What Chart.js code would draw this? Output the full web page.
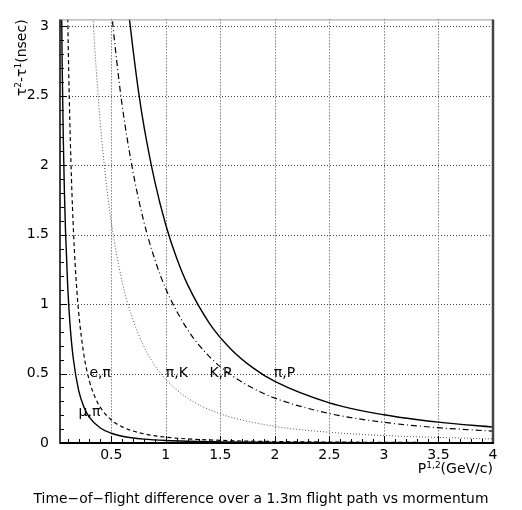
<!DOCTYPE html>
<html>
<head>
<meta charset="utf-8">
<script src="https://cdn.jsdelivr.net/npm/chart.js@4"></script>
<style>
  html, body { margin: 0; padding: 0; background: #fff; }
  #wrap { width: 522px; height: 510px; position: relative; }
</style>
</head>
<body>
<div id="wrap"><canvas id="tof"></canvas></div>
<script>
// momentum (GeV/c) and time difference (ns)
const pMuPi = [0.03, 0.04, 0.05, 0.06, 0.07, 0.08, 0.1, 0.12, 0.15, 0.2, 0.25, 0.3, 0.4, 0.5, 0.6, 0.8, 1, 1.5, 2, 3, 4];
const tMuPi = [4.76, 3.49, 2.72, 2.20, 1.82, 1.54, 1.14, 0.874, 0.619, 0.383, 0.258, 0.185, 0.108, 0.070, 0.049, 0.028, 0.018, 0.008, 0.0045, 0.002, 0.0011];

const pEPi = [0.1, 0.105, 0.11, 0.12, 0.13, 0.14, 0.15, 0.17, 0.2, 0.25, 0.3, 0.35, 0.4, 0.5, 0.6, 0.8, 1, 1.5, 2, 3, 4];
const tEPi = [3.11, 2.88, 2.67, 2.32, 2.03, 1.79, 1.59, 1.27, 0.951, 0.630, 0.446, 0.332, 0.256, 0.166, 0.116, 0.066, 0.042, 0.019, 0.0105, 0.0047, 0.0026];

const pPiK = [0.33, 0.35, 0.4, 0.45, 0.5, 0.6, 0.7, 0.8, 0.9, 1, 1.2, 1.5, 2, 2.5, 3, 3.5, 4];
const tPiK = [3.10, 2.83, 2.30, 1.90, 1.59, 1.16, 0.885, 0.694, 0.558, 0.458, 0.323, 0.210, 0.120, 0.077, 0.054, 0.040, 0.030];

const pKP = [0.5, 0.52, 0.55, 0.6, 0.7, 0.8, 0.9, 1, 1.2, 1.4, 1.6, 1.8, 2, 2.5, 3, 3.5, 4];
const tKP = [3.13, 2.97, 2.75, 2.43, 1.95, 1.59, 1.32, 1.11, 0.816, 0.622, 0.489, 0.394, 0.323, 0.212, 0.149, 0.110, 0.085];

const pPiP = [0.65, 0.67, 0.7, 0.75, 0.8, 0.9, 1, 1.1, 1.2, 1.4, 1.6, 1.8, 2, 2.5, 3, 3.5, 4];
const tPiP = [3.18, 3.03, 2.83, 2.53, 2.28, 1.88, 1.57, 1.33, 1.14, 0.862, 0.674, 0.541, 0.443, 0.289, 0.203, 0.150, 0.115];

const xTicks = [0.5, 1, 1.5, 2, 2.5, 3, 3.5, 4];
const yTicks = [0, 0.5, 1, 1.5, 2, 2.5, 3];

// curve names and where they sit on the plot (data units)
const curveNames = ["μ,π", "e,π", "π,K", "K,P", "π,P"];
const nameP = [0.2, 0.3, 1.0, 1.4, 1.99];
const nameT = [0.22, 0.5, 0.5, 0.5, 0.5];

const pts = (xs, ys) => xs.map((x, i) => ({ x: x, y: ys[i] }));
const TICK_FONT = { family: "DejaVu Sans", size: 14 };

const frame = {
  id: "frame",
  beforeDatasetsDraw(chart) {
    const { ctx, chartArea: a, scales } = chart;
    const xs = scales.x, ys = scales.y;
    ctx.save();
    // dotted grid
    ctx.strokeStyle = "#444";
    ctx.lineWidth = 1;
    ctx.setLineDash([1, 2]);
    ctx.beginPath();
    xTicks.slice(0, -1).forEach(v => {
      const px = Math.round(xs.getPixelForValue(v)) + 0.5;
      ctx.moveTo(px, a.top); ctx.lineTo(px, a.bottom);
    });
    yTicks.slice(1).forEach(v => {
      const py = Math.round(ys.getPixelForValue(v)) + 0.5;
      ctx.moveTo(a.left, py); ctx.lineTo(a.right, py);
    });
    ctx.stroke();
    ctx.setLineDash([]);
    // inside ticks
    ctx.strokeStyle = "#000";
    ctx.beginPath();
    for (let i = 1; i < 40; i++) {
      const px = Math.round(xs.getPixelForValue(i / 10)) + 0.5;
      const len = i % 5 === 0 ? 7 : 4;
      ctx.moveTo(px, a.bottom); ctx.lineTo(px, a.bottom - len);
    }
    for (let i = 1; i <= 30; i++) {
      const py = Math.round(ys.getPixelForValue(i / 10)) + 0.5;
      const len = i % 5 === 0 ? 7 : 4;
      ctx.moveTo(a.left, py); ctx.lineTo(a.left + len, py);
    }
    ctx.stroke();
    ctx.restore();
  },
  afterDraw(chart) {
    const { ctx, chartArea: a, scales } = chart;
    ctx.save();
    // frame
    ctx.strokeStyle = "#999";
    ctx.lineWidth = 1;
    ctx.beginPath(); ctx.moveTo(a.left, a.top + 0.5); ctx.lineTo(a.right, a.top + 0.5); ctx.stroke();
    ctx.strokeStyle = "#444";
    ctx.lineWidth = 2.5;
    ctx.beginPath(); ctx.moveTo(a.right, a.top); ctx.lineTo(a.right, a.bottom); ctx.stroke();
    ctx.strokeStyle = "#000";
    ctx.lineWidth = 1.5;
    ctx.beginPath(); ctx.moveTo(a.left, a.top); ctx.lineTo(a.left, a.bottom + 1); ctx.stroke();
    ctx.lineWidth = 2;
    ctx.beginPath(); ctx.moveTo(a.left, a.bottom); ctx.lineTo(a.right + 1, a.bottom); ctx.stroke();

    ctx.fillStyle = "#000";
    ctx.textBaseline = "middle";
    ctx.font = "14px 'DejaVu Sans'";
    // curve names
    curveNames.forEach((s, i) => {
      ctx.textAlign = "left";
      ctx.fillText(s, scales.x.getPixelForValue(nameP[i]), scales.y.getPixelForValue(nameT[i]));
    });

    // pieces of text with small raised parts
    const drawParts = (parts, x, y) => {
      let cx = x;
      parts.forEach(([txt, small]) => {
        ctx.font = small ? "9px 'DejaVu Sans'" : "14px 'DejaVu Sans'";
        ctx.fillText(txt, cx, small ? y - 3 : y);
        cx += ctx.measureText(txt).width;
      });
    };
    const widthOf = parts => parts.reduce((w, [txt, small]) => {
      ctx.font = small ? "9px 'DejaVu Sans'" : "14px 'DejaVu Sans'";
      return w + ctx.measureText(txt).width;
    }, 0);

    ctx.textAlign = "left";
    // y title, rotated
    const yt = [["τ", false], ["2", true], ["-τ", false], ["1", true], ["(nsec)", false]];
    ctx.save();
    ctx.translate(22, a.top);
    ctx.rotate(-Math.PI / 2);
    drawParts(yt, -widthOf(yt), 0);
    ctx.restore();

    // x title
    const xt = [["P", false], ["1,2", true], ["(GeV/c)", false]];
    drawParts(xt, a.right - widthOf(xt), 469);

    // caption
    const cap = "Time−of−flight difference over a 1.3m flight path vs mormentum";
    ctx.font = "14px 'DejaVu Sans'";
    const fs = 14 * 455 / ctx.measureText(cap).width;
    ctx.font = fs.toFixed(2) + "px 'DejaVu Sans'";
    ctx.textAlign = "center";
    ctx.fillText(cap, 261, 499);
    ctx.restore();
  }
};

new Chart(document.getElementById("tof").getContext("2d"), {
  type: "scatter",
  data: {
    datasets: [
      { label: "mu,pi", data: pts(pMuPi, tMuPi), borderColor: "#000", borderWidth: 1.4 },
      { label: "e,pi", data: pts(pEPi, tEPi), borderColor: "#000", borderWidth: 1.2, borderDash: [4, 3] },
      { label: "pi,K", data: pts(pPiK, tPiK), borderColor: "#555", borderWidth: 1, borderDash: [1, 2] },
      { label: "K,P", data: pts(pKP, tKP), borderColor: "#000", borderWidth: 1.2, borderDash: [6, 3, 1, 3] },
      { label: "pi,P", data: pts(pPiP, tPiP), borderColor: "#000", borderWidth: 1.4 },
    ].map(d => Object.assign(d, { showLine: true, pointRadius: 0, cubicInterpolationMode: "monotone" })),
  },
  options: {
    responsive: true,
    maintainAspectRatio: false,
    animation: false,
    layout: { padding: { top: 11, right: 29, left: 0, bottom: 0 } },
    plugins: { legend: { display: false }, tooltip: { enabled: false } },
    scales: {
      x: {
        type: "linear",
        min: 0.03,
        max: 4,
        afterBuildTicks: s => { s.ticks = xTicks.map(v => ({ value: v })); },
        afterFit: s => { s.height = 67; },
        grid: { display: false, drawTicks: false },
        border: { display: false },
        ticks: { font: TICK_FONT, color: "#000", padding: 4, maxRotation: 0, autoSkip: false, callback: v => String(v) },
      },
      y: {
        type: "linear",
        min: 0,
        max: 3.05,
        afterBuildTicks: s => { s.ticks = yTicks.map(v => ({ value: v })); },
        afterFit: s => { s.width = 60; },
        grid: { display: false, drawTicks: false },
        border: { display: false },
        ticks: { font: TICK_FONT, color: "#000", padding: 11, callback: v => String(v) },
      },
    },
  },
  plugins: [frame],
});
</script>
</body>
</html>
